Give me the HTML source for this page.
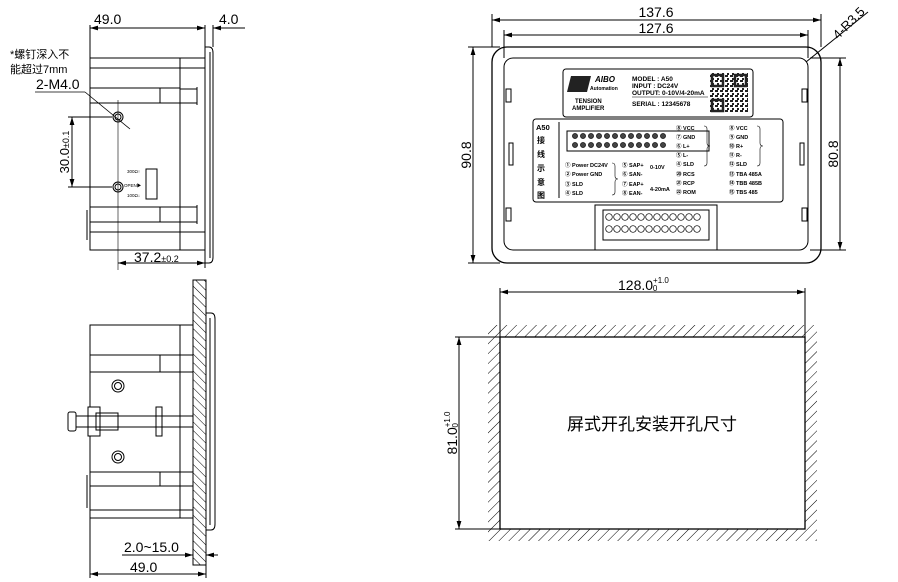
<!DOCTYPE html>
<html><head><meta charset="utf-8"><style>
html,body{margin:0;padding:0;background:#fff;width:898px;height:582px;overflow:hidden}
svg{display:block}
text{font-family:"Liberation Sans","Noto Sans CJK SC",sans-serif;fill:#000}
.b{font-weight:bold}
</style></head><body>
<svg width="898" height="582" viewBox="0 0 898 582" xmlns="http://www.w3.org/2000/svg">
<defs>
<marker id="a" viewBox="0 0 10 6" refX="10" refY="3" markerWidth="8" markerHeight="5" orient="auto-start-reverse"><path d="M0,0L10,3L0,6z" fill="#000"/></marker>
<pattern id="h1" width="7" height="7" patternUnits="userSpaceOnUse" patternTransform="rotate(45)"><line x1="0" y1="0" x2="0" y2="7" stroke="#000" stroke-width="1"/></pattern>
<pattern id="h2" width="6" height="6" patternUnits="userSpaceOnUse" patternTransform="rotate(-45)"><line x1="0" y1="0" x2="0" y2="6" stroke="#000" stroke-width="1"/></pattern>
<pattern id="qr" width="5" height="5" patternUnits="userSpaceOnUse"><rect width="3" height="2" fill="#222"/><rect x="2" y="3" width="2" height="2" fill="#222"/></pattern>
</defs>
<g fill="none" stroke="#000" stroke-width="1">
<!-- ===== top side view ===== -->
<rect x="90" y="58" width="115" height="192"/>
<line x1="90" y1="68" x2="205" y2="68"/>
<line x1="90" y1="88" x2="160" y2="88"/><line x1="90" y1="103" x2="160" y2="103"/>
<rect x="160" y="88" width="20" height="15"/>
<line x1="180" y1="58" x2="180" y2="250"/>
<line x1="180" y1="89" x2="197" y2="89"/><line x1="180" y1="103" x2="197" y2="103"/>
<line x1="197" y1="87" x2="197" y2="105"/>
<line x1="90" y1="207" x2="160" y2="207"/><line x1="90" y1="222" x2="160" y2="222"/>
<rect x="160" y="207" width="20" height="15"/>
<line x1="180" y1="207" x2="197" y2="207"/><line x1="180" y1="222" x2="197" y2="222"/>
<line x1="197" y1="205" x2="197" y2="224"/>
<line x1="90" y1="232" x2="205" y2="232"/>
<line x1="87" y1="210" x2="87" y2="240"/>
<path d="M205,47 h4 q4,0 4,6 v204 q0,6 -4,6 h-4z"/>
<line x1="210" y1="52" x2="210" y2="258"/>
<circle cx="118" cy="117" r="5"/><circle cx="118" cy="117" r="3"/>
<circle cx="118" cy="187" r="5"/><circle cx="118" cy="187" r="3"/>
<line x1="118" y1="100" x2="118" y2="270" stroke-width=".6"/>
<rect x="146" y="169" width="11" height="30"/>
<line x1="35" y1="92" x2="85" y2="92" stroke-width=".8"/>
<line x1="85" y1="92" x2="130" y2="129" stroke-width=".8"/>
<!-- dims -->
<line x1="90" y1="25" x2="90" y2="58"/><line x1="205" y1="25" x2="205" y2="47"/><line x1="213" y1="25" x2="213" y2="47"/>
<line x1="90" y1="28" x2="205" y2="28" marker-start="url(#a)" marker-end="url(#a)"/>
<line x1="213" y1="28" x2="245" y2="28"/><line x1="223" y1="28" x2="213" y2="28" marker-end="url(#a)"/>
<line x1="68" y1="117" x2="112" y2="117"/><line x1="68" y1="187" x2="112" y2="187"/>
<line x1="72" y1="117" x2="72" y2="187" marker-start="url(#a)" marker-end="url(#a)"/>
<line x1="118" y1="263" x2="205" y2="263" marker-start="url(#a)" marker-end="url(#a)"/>
<line x1="205" y1="250" x2="205" y2="268"/>
<!-- ===== bottom side view ===== -->
<rect x="193" y="280" width="13" height="285" fill="url(#h2)"/>
<path d="M206,313 h5 q4,0 4,6 v205 q0,6 -4,6 h-5z"/>
<line x1="210" y1="318" x2="210" y2="525"/>
<rect x="90" y="325" width="103" height="193"/>
<line x1="180" y1="325" x2="180" y2="518"/>
<line x1="90" y1="355" x2="193" y2="355"/><line x1="90" y1="372" x2="193" y2="372"/>
<rect x="160" y="355" width="33" height="17"/>
<line x1="90" y1="472" x2="193" y2="472"/><line x1="90" y1="486" x2="193" y2="486"/>
<rect x="160" y="472" width="33" height="14"/>
<line x1="90" y1="510" x2="193" y2="510"/>
<line x1="87" y1="475" x2="87" y2="508"/>
<circle cx="118" cy="386" r="6"/><circle cx="118" cy="386" r="3.5"/>
<circle cx="118" cy="457" r="6"/><circle cx="118" cy="457" r="3.5"/>
<rect x="88" y="407" width="12" height="29" fill="#fff"/>
<rect x="156" y="407" width="6" height="29" fill="#fff"/>
<line x1="75" y1="416" x2="193" y2="416"/><line x1="75" y1="427" x2="193" y2="427"/>
<rect x="96" y="413" width="22" height="17"/>
<rect x="68" y="412" width="8" height="19" rx="2" fill="#fff"/>
<line x1="90" y1="518" x2="90" y2="578"/><line x1="206" y1="530" x2="206" y2="578"/>
<line x1="90" y1="574" x2="206" y2="574" marker-start="url(#a)" marker-end="url(#a)"/>
<line x1="122" y1="555" x2="193" y2="555" marker-end="url(#a)"/>
<line x1="218" y1="555" x2="206" y2="555" marker-end="url(#a)"/>
<!-- ===== front view ===== -->
<rect x="492" y="47" width="329" height="216" rx="15" stroke-width="1.3"/>
<rect x="504" y="58" width="304" height="192" rx="9"/>
<rect x="563" y="69" width="190" height="48" rx="3"/>
<rect x="533" y="119" width="250" height="83" rx="3"/>
<rect x="595" y="205" width="122" height="45"/>
<rect x="603" y="210" width="106" height="30"/>
<rect x="506" y="89" width="5" height="13"/><rect x="506" y="208" width="5" height="13"/>
<rect x="802" y="89" width="5" height="13"/><rect x="802" y="208" width="5" height="13"/>
<rect x="509" y="143" width="4" height="22"/><rect x="800" y="143" width="4" height="22"/>
<rect x="567" y="131" width="142" height="20"/>
<!-- dims -->
<line x1="492" y1="14" x2="492" y2="47"/><line x1="821" y1="14" x2="821" y2="47"/>
<line x1="492" y1="20" x2="821" y2="20" marker-start="url(#a)" marker-end="url(#a)"/>
<line x1="504" y1="30" x2="504" y2="58"/><line x1="808" y1="30" x2="808" y2="58"/>
<line x1="504" y1="35" x2="808" y2="35" marker-start="url(#a)" marker-end="url(#a)"/>
<line x1="468" y1="47" x2="500" y2="47"/><line x1="468" y1="263" x2="500" y2="263"/>
<line x1="473" y1="47" x2="473" y2="263" marker-start="url(#a)" marker-end="url(#a)"/>
<line x1="810" y1="58" x2="846" y2="58"/><line x1="810" y1="250" x2="846" y2="250"/>
<line x1="840" y1="58" x2="840" y2="250" marker-start="url(#a)" marker-end="url(#a)"/>
<line x1="806" y1="62" x2="868" y2="12"/>
<!-- ===== cutout ===== -->
<rect x="488" y="325" width="329" height="12" fill="url(#h1)" stroke="none"/>
<rect x="488" y="529" width="329" height="12" fill="url(#h1)" stroke="none"/>
<rect x="488" y="337" width="12" height="192" fill="url(#h1)" stroke="none"/>
<rect x="805" y="337" width="12" height="192" fill="url(#h1)" stroke="none"/>
<rect x="500" y="337" width="305" height="192" fill="#fff" stroke-width="1.3"/>
<line x1="500" y1="288" x2="500" y2="337"/><line x1="805" y1="288" x2="805" y2="337"/>
<line x1="500" y1="292" x2="805" y2="292" marker-start="url(#a)" marker-end="url(#a)"/>
<line x1="455" y1="337" x2="500" y2="337"/><line x1="455" y1="529" x2="500" y2="529"/>
<line x1="459" y1="337" x2="459" y2="529" marker-start="url(#a)" marker-end="url(#a)"/>
</g>
<g fill="none" stroke="#000" stroke-width=".7">
<g id="r1">
<circle cx="609" cy="217" r="3.3"/><circle cx="617" cy="217" r="3.3"/><circle cx="625" cy="217" r="3.3"/><circle cx="633" cy="217" r="3.3"/><circle cx="641" cy="217" r="3.3"/><circle cx="649" cy="217" r="3.3"/><circle cx="657" cy="217" r="3.3"/><circle cx="665" cy="217" r="3.3"/><circle cx="673" cy="217" r="3.3"/><circle cx="681" cy="217" r="3.3"/><circle cx="689" cy="217" r="3.3"/><circle cx="697" cy="217" r="3.3"/>
</g>
<use href="#r1" y="12"/>
</g>
<g fill="#444" stroke="#000" stroke-width=".6">
<circle cx="575" cy="136" r="2.6"/><circle cx="583" cy="136" r="2.6"/><circle cx="591" cy="136" r="2.6"/><circle cx="599" cy="136" r="2.6"/><circle cx="607" cy="136" r="2.6"/><circle cx="615" cy="136" r="2.6"/><circle cx="623" cy="136" r="2.6"/><circle cx="631" cy="136" r="2.6"/><circle cx="639" cy="136" r="2.6"/><circle cx="647" cy="136" r="2.6"/><circle cx="655" cy="136" r="2.6"/><circle cx="663" cy="136" r="2.6"/>
<circle cx="575" cy="145" r="2.6"/><circle cx="583" cy="145" r="2.6"/><circle cx="591" cy="145" r="2.6"/><circle cx="599" cy="145" r="2.6"/><circle cx="607" cy="145" r="2.6"/><circle cx="615" cy="145" r="2.6"/><circle cx="623" cy="145" r="2.6"/><circle cx="631" cy="145" r="2.6"/><circle cx="639" cy="145" r="2.6"/><circle cx="647" cy="145" r="2.6"/><circle cx="655" cy="145" r="2.6"/><circle cx="663" cy="145" r="2.6"/>
</g>
<g fill="#222">
<path d="M571,76 h20 l-4,16 h-20z"/>
<rect x="710" y="73" width="38" height="40" fill="url(#qr)"/>
<rect x="712" y="75" width="11" height="11" fill="none" stroke="#222" stroke-width="2.5"/>
<rect x="712" y="100" width="11" height="11" fill="none" stroke="#222" stroke-width="2.5"/>
<rect x="735" y="75" width="11" height="11" fill="none" stroke="#222" stroke-width="2.5"/>
</g>
<g class="b" font-size="6.5">
<text x="595" y="82" font-style="italic" font-size="8">AIBO</text>
<text x="590" y="90" font-size="5">Automation</text>
<text x="575" y="103" font-size="6">TENSION</text>
<text x="572" y="110" font-size="6">AMPLIFIER</text>
<text x="632" y="81">MODEL : A50</text>
<text x="632" y="88">INPUT   : DC24V</text>
<text x="632" y="95">OUTPUT: 0-10V/4-20mA</text>
<text x="632" y="106">SERIAL  : 12345678</text>
</g>
<line x1="632" y1="97" x2="708" y2="97" stroke="#000" stroke-width=".6"/>
<g class="b" font-size="5.5">
<text x="536" y="130" font-size="7.5">A50</text>
<text x="537" y="143" font-size="8">接</text><text x="537" y="157" font-size="8">线</text><text x="537" y="171" font-size="8">示</text><text x="537" y="185" font-size="8">意</text><text x="537" y="198" font-size="8">图</text>
<text x="565" y="167">① Power DC24V</text><text x="565" y="176">② Power GND</text><text x="565" y="186">③ SLD</text><text x="565" y="195">④ SLD</text>
<text x="622" y="167">⑤ SAP+</text><text x="622" y="176">⑥ SAN-</text><text x="622" y="186">⑦ EAP+</text><text x="622" y="195">⑧ EAN-</text>
<text x="650" y="169">0-10V</text><text x="650" y="191">4-20mA</text>
<text x="676" y="130">⑧ VCC</text><text x="676" y="139">⑦ GND</text><text x="676" y="148">⑥ L+</text><text x="676" y="157">⑤ L-</text><text x="676" y="166">④ SLD</text>
<text x="676" y="176">⑳ RCS</text><text x="676" y="185">㉑ RCP</text><text x="676" y="194">㉒ ROM</text>
<text x="729" y="130">⑧ VCC</text><text x="729" y="139">⑨ GND</text><text x="729" y="148">⑩ R+</text><text x="729" y="157">⑪ R-</text><text x="729" y="166">⑫ SLD</text>
<text x="729" y="176">⑬ TBA  485A</text><text x="729" y="185">⑭ TBB  485B</text><text x="729" y="194">⑮ TBS  485</text>
</g>
<g stroke="#000" stroke-width=".6" fill="none">
<path d="M704,126 q3,0 3,3 v14 q0,3 3,3 q-3,0 -3,3 v14 q0,3 -3,3"/>
<path d="M757,126 q3,0 3,3 v14 q0,3 3,3 q-3,0 -3,3 v14 q0,3 -3,3"/>
<path d="M612,163 q3,0 3,3 v10 q0,3 3,3 q-3,0 -3,3 v10 q0,3 -3,3"/>
</g>
<line x1="559" y1="122" x2="559" y2="198" stroke="#000"/>
<text x="94" y="24" font-size="14">49.0</text>
<text x="219" y="24" font-size="14">4.0</text>
<text x="10" y="58" font-size="11">*螺钉深入不</text>
<text x="10" y="73" font-size="11">能超过7mm</text>
<text x="36" y="89" font-size="14">2-M4.0</text>
<text transform="translate(69,152) rotate(-90)" text-anchor="middle" font-size="13">30.0<tspan font-size="9">±0.1</tspan></text>
<text x="127" y="173" font-size="4.5">300Ω↑</text><text x="124" y="187" font-size="4.5">OPEN▶</text><text x="127" y="197" font-size="4.5">100Ω↓</text>
<text x="134" y="262" font-size="14">37.2<tspan font-size="9">±0.2</tspan></text>
<text x="124" y="552" font-size="14">2.0~15.0</text>
<text x="130" y="572" font-size="14">49.0</text>
<text x="656" y="17" text-anchor="middle" font-size="14">137.6</text>
<text x="656" y="33" text-anchor="middle" font-size="14">127.6</text>
<text transform="translate(471,155) rotate(-90)" text-anchor="middle" font-size="14">90.8</text>
<text transform="translate(838,154) rotate(-90)" text-anchor="middle" font-size="14">80.8</text>
<text transform="translate(838,40) rotate(-45)" font-size="13">4-R3.5</text>
<text x="618" y="290" font-size="14">128.0<tspan font-size="8" dy="-7">+1.0</tspan><tspan font-size="8" dx="-16" dy="8">0</tspan></text>
<text transform="translate(457,433) rotate(-90)" text-anchor="middle" font-size="14">81.0<tspan font-size="8" dy="-7">+1.0</tspan><tspan font-size="8" dx="-16" dy="8">0</tspan></text>
<text x="652" y="430" text-anchor="middle" font-size="17">屏式开孔安装开孔尺寸</text>
</svg>
</body></html>
